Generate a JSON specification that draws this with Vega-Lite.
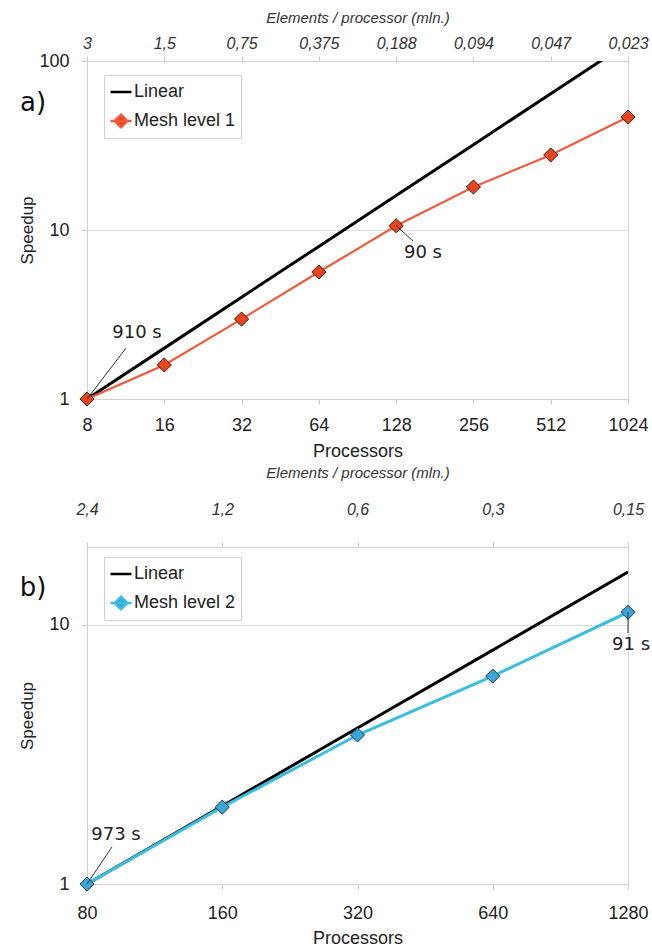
{
  "$schema": "https://vega.github.io/schema/vega-lite/v6.json",
  "padding": {"left": 18, "top": 9, "right": 0, "bottom": 0},
  "bounds": "flush",
  "spacing": 148,
  "config": {
    "font": "Liberation Sans",
    "view": {"stroke": "#d0d0d0", "strokeWidth": 1},
    "axis": {"labelFont": "Liberation Sans", "titleFont": "Liberation Sans", "labelColor": "#222222", "titleColor": "#222222", "titleFontWeight": "normal", "domainColor": "#d0d0d0", "tickColor": "#c8c8c8", "gridColor": "#dcdcdc", "labelFlush": false, "labelOverlap": false},
    "legend": {"title": null, "orient": "none", "legendX": 17, "legendY": 14, "symbolSize": 441, "symbolStrokeWidth": 2.5, "labelFontSize": 18, "labelColor": "#222222", "labelFont": "Liberation Sans", "strokeColor": "#d0d0d0", "fillColor": "#ffffff", "padding": 5, "rowPadding": 8, "labelOffset": 1, "symbolOpacity": 1}
  },
  "resolve": {
    "scale": {"fill": "independent", "stroke": "independent", "shape": "independent"},
    "legend": {"shape": "independent", "fill": "independent", "stroke": "independent"}
  },
  "vconcat": [
    {
      "width": 541,
      "height": 338,
      "resolve": {"axis": {"x": "independent"}},
      "layer": [
        {
          "data": {"values": [
            {"series": "Linear", "p": 8, "s": 1},
            {"series": "Linear", "p": 16, "s": 2},
            {"series": "Linear", "p": 32, "s": 4},
            {"series": "Linear", "p": 64, "s": 8},
            {"series": "Linear", "p": 128, "s": 16},
            {"series": "Linear", "p": 256, "s": 32},
            {"series": "Linear", "p": 512, "s": 64},
            {"series": "Linear", "p": 1024, "s": 128},
            {"series": "Mesh level 1", "p": 8, "s": 1},
            {"series": "Mesh level 1", "p": 16, "s": 1.59},
            {"series": "Mesh level 1", "p": 32, "s": 2.97},
            {"series": "Mesh level 1", "p": 64, "s": 5.64},
            {"series": "Mesh level 1", "p": 128, "s": 10.6},
            {"series": "Mesh level 1", "p": 256, "s": 17.96},
            {"series": "Mesh level 1", "p": 512, "s": 27.8},
            {"series": "Mesh level 1", "p": 1024, "s": 46.6}
          ]},
          "mark": {"type": "line", "clip": true},
          "encoding": {
            "x": {"field": "p", "type": "quantitative", "scale": {"type": "log", "base": 2, "domain": [8, 1024], "nice": false},
              "axis": {"orient": "bottom", "values": [8, 16, 32, 64, 128, 256, 512, 1024], "format": "d", "grid": false, "title": "Processors", "labelFontSize": 18, "titleFontSize": 18, "tickSize": 5, "labelPadding": 12, "titlePadding": 8}},
            "y": {"field": "s", "type": "quantitative", "scale": {"type": "log", "domain": [1, 100], "nice": false},
              "axis": {"orient": "left", "values": [1, 10, 100], "format": "d", "grid": true, "domain": false, "title": "Speedup", "labelFontSize": 18, "titleFontSize": 17, "tickSize": 6, "labelPadding": 12, "titlePadding": 2}},
            "detail": {"field": "series", "type": "nominal"},
            "color": {"condition": {"test": "datum.series == 'Linear'", "value": "#000000"}, "value": "#f05a3c"},
            "strokeWidth": {"condition": {"test": "datum.series == 'Linear'", "value": 3}, "value": 2.2}
          }
        },
        {
          "data": {"values": [
            {"p": 8, "s": 1}, {"p": 16, "s": 1.59}, {"p": 32, "s": 2.97}, {"p": 64, "s": 5.64},
            {"p": 128, "s": 10.6}, {"p": 256, "s": 17.96}, {"p": 512, "s": 27.8}, {"p": 1024, "s": 46.6}
          ]},
          "mark": {"type": "point", "shape": "diamond", "filled": true, "fill": "#e8441e", "stroke": "#3a1a10", "strokeWidth": 1, "size": 200, "opacity": 1},
          "encoding": {
            "x": {"field": "p", "type": "quantitative", "axis": null},
            "y": {"field": "s", "type": "quantitative"}
          }
        },
        {
          "data": {"values": [
            {"series": "Linear", "p": 8, "s": 0.5},
            {"series": "Mesh level 1", "p": 8, "s": 0.5}
          ]},
          "mark": {"type": "point", "filled": true, "clip": true, "opacity": 1, "strokeWidth": 2.5, "size": 441},
          "encoding": {
            "x": {"field": "p", "type": "quantitative", "axis": null},
            "y": {"field": "s", "type": "quantitative"},
            "shape": {"field": "series", "type": "nominal", "scale": {"domain": ["Linear", "Mesh level 1"], "range": ["M-1,0H1", "M-1,0H1M0,-0.6L0.6,0L0,0.6L-0.6,0Z"]}},
            "fill": {"field": "series", "type": "nominal", "scale": {"domain": ["Linear", "Mesh level 1"], "range": ["#000000", "#e8441e"]}},
            "stroke": {"field": "series", "type": "nominal", "scale": {"domain": ["Linear", "Mesh level 1"], "range": ["#000000", "#f05a3c"]}}
          }
        },
        {
          "data": {"values": [
            {"p": 8, "s": 1, "p2": 11.35, "s2": 2.0},
            {"p": 128, "s": 10.6, "p2": 148.9, "s2": 8.61}
          ]},
          "mark": {"type": "rule", "color": "#333333", "strokeWidth": 1},
          "encoding": {
            "x": {"field": "p", "type": "quantitative",
              "axis": {"orient": "top", "values": [8, 16, 32, 64, 128, 256, 512, 1024], "grid": false, "title": "Elements / processor (mln.)", "labelExpr": "datum.value==8?'3':datum.value==16?'1,5':datum.value==32?'0,75':datum.value==64?'0,375':datum.value==128?'0,188':datum.value==256?'0,094':datum.value==512?'0,047':'0,023'", "labelFontSize": 16, "labelFontStyle": "italic", "titleFontSize": 15, "titleFontStyle": "italic", "labelColor": "#333333", "titleColor": "#333333", "tickSize": 5, "labelPadding": 5, "titlePadding": 10}},
            "y": {"field": "s", "type": "quantitative"},
            "x2": {"field": "p2"},
            "y2": {"field": "s2"}
          }
        },
        {
          "data": {"values": [
            {"p": 12.53, "s": 2.46, "label": "910 s"},
            {"p": 162.8, "s": 7.31, "label": "90 s"}
          ]},
          "mark": {"type": "text", "font": "DejaVu Sans", "fontSize": 18, "color": "#222222"},
          "encoding": {
            "x": {"field": "p", "type": "quantitative", "axis": null},
            "y": {"field": "s", "type": "quantitative"},
            "text": {"field": "label"}
          }
        },
        {
          "data": {"values": [{"p": 8, "s": 56.4, "label": "a)"}]},
          "mark": {"type": "text", "font": "DejaVu Sans", "fontSize": 26, "color": "#111111", "dx": -54},
          "encoding": {
            "x": {"field": "p", "type": "quantitative", "axis": null},
            "y": {"field": "s", "type": "quantitative"},
            "text": {"field": "label"}
          }
        }
      ]
    },
    {
      "width": 541,
      "height": 337,
      "resolve": {"axis": {"x": "independent"}},
      "layer": [
        {
          "data": {"values": [
            {"series": "Linear", "p": 80, "s": 1},
            {"series": "Linear", "p": 160, "s": 2},
            {"series": "Linear", "p": 320, "s": 4},
            {"series": "Linear", "p": 640, "s": 8},
            {"series": "Linear", "p": 1280, "s": 16},
            {"series": "Mesh level 2", "p": 80, "s": 1},
            {"series": "Mesh level 2", "p": 160, "s": 1.98},
            {"series": "Mesh level 2", "p": 320, "s": 3.76},
            {"series": "Mesh level 2", "p": 640, "s": 6.35},
            {"series": "Mesh level 2", "p": 1280, "s": 11.2}
          ]},
          "mark": {"type": "line", "clip": true},
          "encoding": {
            "x": {"field": "p", "type": "quantitative", "scale": {"type": "log", "base": 2, "domain": [80, 1280], "nice": false},
              "axis": {"orient": "bottom", "values": [80, 160, 320, 640, 1280], "format": "d", "grid": false, "title": "Processors", "labelFontSize": 18, "titleFontSize": 18, "tickSize": 5, "labelPadding": 15, "titlePadding": 7}},
            "y": {"field": "s", "type": "quantitative", "scale": {"type": "log", "domain": [1, 20], "nice": false},
              "axis": {"orient": "left", "values": [1, 10], "format": "d", "grid": true, "domain": false, "title": "Speedup", "labelFontSize": 18, "titleFontSize": 17, "tickSize": 6, "labelPadding": 12, "titlePadding": 12}},
            "detail": {"field": "series", "type": "nominal"},
            "color": {"condition": {"test": "datum.series == 'Linear'", "value": "#000000"}, "value": "#3bbde0"},
            "strokeWidth": {"value": 3}
          }
        },
        {
          "data": {"values": [
            {"p": 80, "s": 1}, {"p": 160, "s": 1.98}, {"p": 320, "s": 3.76}, {"p": 640, "s": 6.35}, {"p": 1280, "s": 11.2}
          ]},
          "mark": {"type": "point", "shape": "diamond", "filled": true, "fill": "#3aa5d6", "stroke": "#1e3a4c", "strokeWidth": 1, "size": 200, "opacity": 1},
          "encoding": {
            "x": {"field": "p", "type": "quantitative", "axis": null},
            "y": {"field": "s", "type": "quantitative"}
          }
        },
        {
          "data": {"values": [
            {"series": "Linear", "p": 80, "s": 0.5},
            {"series": "Mesh level 2", "p": 80, "s": 0.5}
          ]},
          "mark": {"type": "point", "filled": true, "clip": true, "opacity": 1, "strokeWidth": 2.5, "size": 441},
          "encoding": {
            "x": {"field": "p", "type": "quantitative", "axis": null},
            "y": {"field": "s", "type": "quantitative"},
            "shape": {"field": "series", "type": "nominal", "scale": {"domain": ["Linear", "Mesh level 2"], "range": ["M-1,0H1", "M-1,0H1M0,-0.6L0.6,0L0,0.6L-0.6,0Z"]}, "legend": {"legendY": 10}},
            "fill": {"field": "series", "type": "nominal", "scale": {"domain": ["Linear", "Mesh level 2"], "range": ["#000000", "#3aa5d6"]}, "legend": {"legendY": 10}},
            "stroke": {"field": "series", "type": "nominal", "scale": {"domain": ["Linear", "Mesh level 2"], "range": ["#000000", "#3bbde0"]}, "legend": {"legendY": 10}}
          }
        },
        {
          "data": {"values": [
            {"p": 80, "s": 1, "p2": 90.9, "s2": 1.389},
            {"p": 1280, "s": 11.2, "p2": 1280, "s2": 9.31}
          ]},
          "mark": {"type": "rule", "color": "#333333", "strokeWidth": 1},
          "encoding": {
            "x": {"field": "p", "type": "quantitative",
              "axis": {"orient": "top", "values": [80, 160, 320, 640, 1280], "grid": false, "title": "Elements / processor (mln.)", "labelExpr": "datum.value==80?'2,4':datum.value==160?'1,2':datum.value==320?'0,6':datum.value==640?'0,3':'0,15'", "labelFontSize": 16, "labelFontStyle": "italic", "titleFontSize": 15, "titleFontStyle": "italic", "labelColor": "#333333", "titleColor": "#333333", "tickSize": 5, "labelPadding": 25, "titlePadding": 21}},
            "y": {"field": "s", "type": "quantitative"},
            "x2": {"field": "p2"},
            "y2": {"field": "s2"}
          }
        },
        {
          "data": {"values": [
            {"p": 92.8, "s": 1.546, "label": "973 s"},
            {"p": 1300, "s": 8.37, "label": "91 s"}
          ]},
          "mark": {"type": "text", "font": "DejaVu Sans", "fontSize": 18, "color": "#222222"},
          "encoding": {
            "x": {"field": "p", "type": "quantitative", "axis": null},
            "y": {"field": "s", "type": "quantitative"},
            "text": {"field": "label"}
          }
        },
        {
          "data": {"values": [{"p": 80, "s": 13.9, "label": "b)"}]},
          "mark": {"type": "text", "font": "DejaVu Sans", "fontSize": 26, "color": "#111111", "dx": -54},
          "encoding": {
            "x": {"field": "p", "type": "quantitative", "axis": null},
            "y": {"field": "s", "type": "quantitative"},
            "text": {"field": "label"}
          }
        }
      ]
    }
  ]
}
